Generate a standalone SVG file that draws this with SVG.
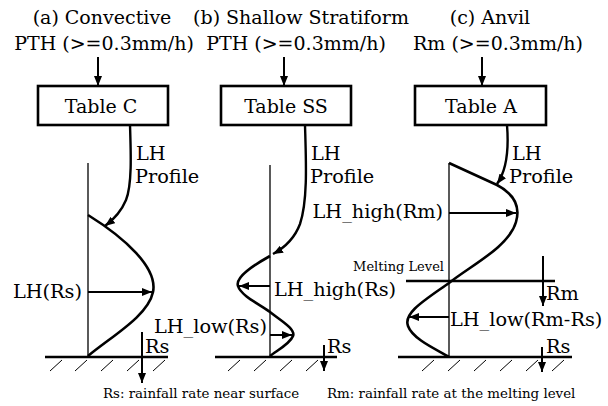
<svg xmlns="http://www.w3.org/2000/svg" width="608" height="406" viewBox="0 0 608 406">
  <defs>
    <marker id="head" viewBox="0 0 10 8" refX="10" refY="4" markerWidth="10" markerHeight="8" markerUnits="userSpaceOnUse" orient="auto">
      <path d="M0,0 L10,4 L0,8 Z" fill="#000"/>
    </marker>
    <style>
      text { font-family: "DejaVu Serif", "Liberation Serif", serif; fill: #000; }
      .t { font-size: 19px; }
      .lb { font-size: 19.3px; }
      .sm { font-size: 13px; }
      .cap { font-size: 13.4px; }
      .box { fill: #fff; stroke: #000; stroke-width: 2.6; }
      .axis { fill: none; stroke: #000; stroke-width: 1.3; }
      .prof { fill: none; stroke: #000; stroke-width: 2.6; }
      .arr { fill: none; stroke: #000; stroke-width: 2; marker-end: url(#head); }
      .flow { fill: none; stroke: #000; stroke-width: 2.4; marker-end: url(#head); }
      .ground { stroke: #000; stroke-width: 2.6; }
      .hatch { stroke: #000; stroke-width: 1; }
    </style>
  </defs>

  <!-- headings -->
  <g id="heading-a">
    <text class="t" x="102" y="24" text-anchor="middle">(a) Convective</text>
    <text class="t" x="104" y="50" text-anchor="middle">PTH (&gt;=0.3mm/h)</text>
  </g>
  <g id="heading-b">
    <text class="t" x="301" y="24" text-anchor="middle">(b) Shallow Stratiform</text>
    <text class="t" x="296" y="50" text-anchor="middle">PTH (&gt;=0.3mm/h)</text>
  </g>
  <g id="heading-c">
    <text class="t" x="490" y="24" text-anchor="middle">(c) Anvil</text>
    <text class="t" x="498" y="50" text-anchor="middle">Rm (&gt;=0.3mm/h)</text>
  </g>

  <!-- lookup tables -->
  <g id="table-c">
    <rect class="box" x="38" y="86" width="130" height="39"/>
    <text class="t" x="101" y="113" text-anchor="middle">Table C</text>
  </g>
  <g id="table-ss">
    <rect class="box" x="221" y="86" width="130" height="39"/>
    <text class="t" x="286" y="113" text-anchor="middle">Table SS</text>
  </g>
  <g id="table-a">
    <rect class="box" x="415" y="86" width="131" height="39"/>
    <text class="t" x="481" y="113" text-anchor="middle">Table A</text>
  </g>

  <!-- profile axes, ground and profiles -->
  <g id="profile-a">
    <line class="axis" x1="88" y1="163" x2="88" y2="357"/>
    <path class="prof" d="M88,215 C125,238 158,268 153,292 C148,316 112,336 88,356"/>
    <line class="ground" x1="45" y1="357" x2="168" y2="357"/>
    <g class="hatch">
      <line x1="50" y1="371" x2="62" y2="360"/>
      <line x1="75" y1="371" x2="87" y2="360"/>
      <line x1="101" y1="371" x2="113" y2="360"/>
      <line x1="127" y1="371" x2="139" y2="360"/>
      <line x1="153" y1="371" x2="165" y2="360"/>
    </g>
  </g>
  <g id="profile-b">
    <line class="axis" x1="270" y1="165" x2="270" y2="357"/>
    <path class="prof" d="M270,256 C254,265 235,277 238,286 C241,296 261,305 270,312 C280,320 296,329 293,336 C290,344 276,351 270,356"/>
    <line class="ground" x1="215" y1="357" x2="337" y2="357"/>
    <g class="hatch">
      <line x1="228" y1="371" x2="240" y2="360"/>
      <line x1="254" y1="371" x2="266" y2="360"/>
      <line x1="280" y1="371" x2="292" y2="360"/>
      <line x1="306" y1="371" x2="318" y2="360"/>
    </g>
  </g>
  <g id="profile-c">
    <line class="axis" x1="449" y1="163" x2="449" y2="357"/>
    <path class="prof" d="M449,163 L497,185 C512,193 521,205 516,222 C509,247 470,266 449,283 C425,300 403,313 408,326 C413,340 440,351 449,357"/>
    <line class="ground" x1="398" y1="357" x2="572" y2="357"/>
    <g class="hatch">
      <line x1="422" y1="371" x2="434" y2="360"/>
      <line x1="448" y1="371" x2="460" y2="360"/>
      <line x1="474" y1="371" x2="486" y2="360"/>
      <line x1="500" y1="371" x2="512" y2="360"/>
      <line x1="526" y1="371" x2="538" y2="360"/>
      <line x1="552" y1="371" x2="564" y2="360"/>
    </g>
  </g>

  <!-- melting level -->
  <g id="melting-level">
    <line class="ground" x1="406" y1="281" x2="555" y2="281"/>
    <text class="sm" x="444" y="271" text-anchor="end">Melting Level</text>
  </g>

  <!-- connectors -->
  <g id="connectors">
    <line class="arr" x1="98" y1="57" x2="98" y2="86"/>
    <line class="arr" x1="284" y1="57" x2="284" y2="86"/>
    <line class="arr" x1="482" y1="57" x2="482" y2="86"/>

    <path class="flow" d="M130,125 C131,155 132,185 126,200 C121,212 113,220 105,226"/>
    <path class="flow" d="M305,125 C306,160 308,200 300,224 C294,240 284,248 273,254"/>
    <path class="flow" d="M507,125 C509,150 507,170 497,184"/>

    <line class="arr" x1="88" y1="292" x2="152" y2="292"/>
    <line class="arr" x1="270" y1="286" x2="239" y2="286"/>
    <line class="arr" x1="270" y1="335" x2="292" y2="335"/>
    <line class="arr" x1="449" y1="213" x2="516" y2="213"/>
    <line class="arr" x1="449" y1="317" x2="409" y2="317"/>

    <line class="arr" x1="142" y1="332" x2="142" y2="383"/>
    <line class="arr" x1="324" y1="345" x2="324" y2="371"/>
    <line class="arr" x1="542" y1="347" x2="542" y2="372"/>
    <line class="arr" x1="543" y1="256" x2="543" y2="306"/>
  </g>

  <!-- labels -->
  <g id="labels">
    <text class="lb" x="136" y="160">LH</text>
    <text class="lb" x="135" y="183">Profile</text>
    <text class="lb" x="311" y="160">LH</text>
    <text class="lb" x="310" y="183">Profile</text>
    <text class="lb" x="512" y="160">LH</text>
    <text class="lb" x="509" y="183">Profile</text>

    <text class="lb" x="82" y="298" text-anchor="end">LH(Rs)</text>
    <text class="lb" x="274" y="296">LH_high(Rs)</text>
    <text class="lb" x="267" y="333" text-anchor="end">LH_low(Rs)</text>
    <text class="lb" x="443" y="218" text-anchor="end">LH_high(Rm)</text>
    <text class="lb" x="450" y="326">LH_low(Rm-Rs)</text>

    <text class="lb" x="145" y="353">Rs</text>
    <text class="lb" x="327" y="353">Rs</text>
    <text class="lb" x="546" y="353">Rs</text>
    <text class="lb" x="546" y="300">Rm</text>

    <text class="cap" x="103" y="398">Rs: rainfall rate near surface</text>
    <text class="cap" x="327" y="398">Rm: rainfall rate at the melting level</text>
  </g>
</svg>
